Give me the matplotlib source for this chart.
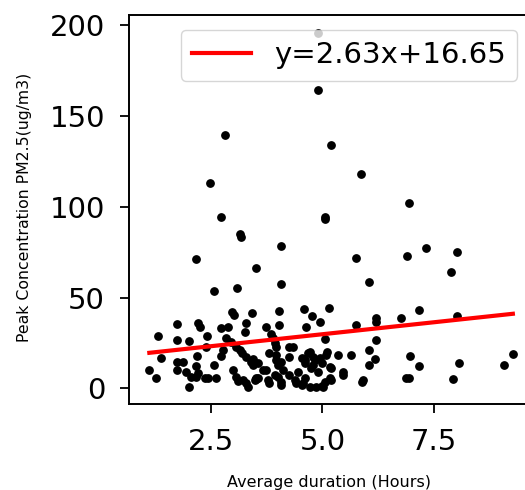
import matplotlib
matplotlib.use("Agg")
import matplotlib.pyplot as plt
import numpy as np

# average duration (hours) vs peak PM2.5 concentration
duration = [
    4.89, 4.89, 2.82, 5.19, 5.86, 2.48, 6.95, 2.73, 5.05, 5.06, 3.14, 3.18,
    4.08, 7.33, 8.02, 2.16, 5.75, 6.89, 3.51, 7.90, 4.08, 6.04, 2.56, 3.07,
    2.96, 3.02, 3.42, 4.02, 4.59, 5.15, 4.77, 4.95, 7.18, 6.76, 6.20, 6.20,
    8.02, 5.75, 4.64, 3.74, 1.73, 2.20, 2.24, 2.72, 2.87, 3.29, 3.25, 4.02,
    3.85,
    1.31, 1.73, 2.01, 2.40, 2.84, 2.95, 3.06, 3.14, 2.39, 2.76, 3.89, 3.93,
    5.05, 6.20, 4.26, 4.34, 3.96, 6.04, 2.72, 2.18, 1.37, 3.29, 3.40, 3.20,
    3.81, 3.96, 4.26, 4.53, 4.67, 4.79, 5.09, 5.35, 5.65, 4.71, 5.11, 6.97,
    6.19, 4.94, 4.60, 4.83, 3.96, 4.08, 9.28,
    1.11, 1.26, 1.73, 1.86, 1.73, 1.94, 2.05, 2.20, 2.01, 2.35, 2.61, 2.57,
    2.16, 2.16, 2.42, 2.99, 3.06, 3.21, 3.32, 3.48, 3.10, 3.29, 3.50, 3.66,
    3.44, 3.44, 3.55, 3.74, 3.55, 4.00, 3.93, 4.11, 4.08, 4.26, 4.45, 4.41,
    4.60, 4.75, 4.90, 4.98, 5.05, 5.20, 5.16, 5.46, 3.81, 4.53, 4.86, 5.01,
    4.56, 4.98, 5.20, 4.60, 4.79, 5.16, 5.46, 5.91, 5.88, 6.05, 6.88, 6.95,
    7.18, 8.08, 7.94, 9.08, 3.51, 3.77, 4.00, 4.38, 4.71, 4.08,
]
peak_pm25 = [
    195.4, 164.2, 139.3, 134.1, 118.1, 113.0, 102.2, 94.1, 94.5, 93.0, 84.8, 83.5,
    78.3, 77.1, 75.2, 71.2, 71.9, 73.0, 66.1, 64.2, 57.3, 58.5, 53.6, 55.0,
    42.2, 40.4, 41.7, 42.6, 43.7, 44.0, 40.0, 36.7, 43.3, 38.5, 38.5, 36.7,
    39.8, 35.0, 33.9, 33.9, 35.5, 35.8, 33.9, 33.0, 33.9, 36.1, 31.2, 35.0,
    30.0,
    28.9, 26.4, 26.0, 29.0, 27.5, 25.7, 22.9, 21.1, 22.9, 21.1, 27.5, 24.8,
    27.0, 26.8, 22.9, 22.9, 22.9, 21.3, 17.6, 17.6, 16.6, 17.4, 14.6, 19.7,
    19.3, 18.3, 17.4, 16.5, 19.3, 17.4, 18.3, 18.3, 18.3, 20.1, 20.1, 17.8,
    16.3, 16.5, 15.6, 15.6, 15.6, 14.6, 19.1,
    10.3, 5.9, 14.6, 14.6, 10.1, 9.1, 6.4, 8.3, 0.9, 5.5, 5.5, 12.8,
    12.3, 6.4, 5.5, 10.1, 6.4, 4.6, 0.9, 4.6, 4.0, 3.1, 5.0, 10.0,
    16.4, 12.8, 13.8, 10.1, 5.5, 12.8, 7.3, 10.1, 3.6, 7.3, 9.1, 2.7,
    5.5, 11.0, 9.1, 13.8, 3.6, 11.0, 5.5, 9.1, 2.7, 1.8, 0.9, 0.9,
    2.7, 1.3, 4.6, 13.8, 12.8, 11.9, 7.5, 4.6, 3.6, 13.0, 5.8, 5.8,
    12.5, 13.8, 5.3, 13.0, 5.5, 4.6, 6.4, 4.6, 0.9, 1.8,
]

slope = 2.63
intercept = 16.65

x = np.array(duration)
y = np.array(peak_pm25)

fig = plt.figure(figsize=(5.25, 4.9), dpi=100)
ax = fig.add_axes([0.2463, 0.1755, 0.767, 0.7939])

ax.scatter(x, y, s=28, color='black')
xs = np.array([x.min(), x.max()])
ax.plot(xs, slope * xs + intercept, color='red', lw=3,
        label='y={:.2f}x+{:.2f}'.format(slope, intercept))

ax.set_xlim(0.66, 9.71)
ax.set_ylim(-8.6, 205.5)
ax.set_xticks([2.5, 5.0, 7.5])
ax.set_yticks([0, 50, 100, 150, 200])
ax.tick_params(labelsize=21, width=1.3, length=6.5, pad=11)
for s in ax.spines.values():
    s.set_linewidth(1.4)

ax.set_xlabel('Average duration (Hours)', fontsize=11.5)
ax.set_ylabel('Peak Concentration PM2.5(ug/m3)', fontsize=11.3)
ax.xaxis.set_label_coords(0.496, -0.1825)
ax.yaxis.set_label_coords(-0.2416, 0.506)

ax.legend(loc='upper right', fontsize=21)

fig.savefig('out.png', dpi=100)
